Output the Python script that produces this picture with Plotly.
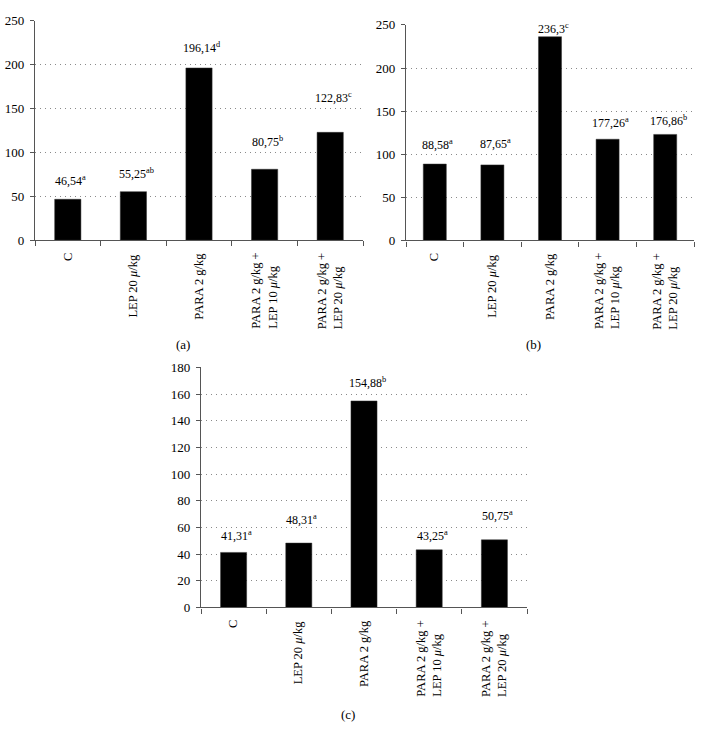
import plotly.graph_objects as go

# ---------------- data ----------------
categories = ["C", "LEP 20 <i>μ</i>/kg", "PARA 2 g/kg",
              "PARA 2 g/kg +<br>LEP 10 <i>μ</i>/kg",
              "PARA 2 g/kg +<br>LEP 20 <i>μ</i>/kg"]

values_a = [46.54, 55.25, 196.14, 80.75, 122.83]
labels_a = ["46,54", "55,25", "196,14", "80,75", "122,83"]
letters_a = ["a", "ab", "d", "b", "c"]

values_b = [88.58, 87.65, 236.3, 117.4, 123.0]
labels_b = ["88,58", "87,65", "236,3", "177,26", "176,86"]
letters_b = ["a", "a", "c", "a", "b"]

values_c = [41.31, 48.31, 154.88, 43.25, 50.75]
labels_c = ["41,31", "48,31", "154,88", "43,25", "50,75"]
letters_c = ["a", "a", "b", "a", "a"]

panel_names = ["(a)", "(b)", "(c)"]
y_ranges = [(0, 250, 50), (0, 250, 50), (0, 180, 20)]

# ---------------- style / layout ----------------
W, H = 703, 735
FONT = "Liberation Serif"
AXIS_COLOR = "#555555"
GRID_COLOR = "#8a8a8a"

domains = [
    dict(x=[35 / W, 363 / W], y=[1 - 238 / H, 1 - 14 / H]),
    dict(x=[406 / W, 694 / W], y=[1 - 238.3 / H, 1 - 18.3 / H]),
    dict(x=[201 / W, 527 / W], y=[1 - 613 / H, 1 - 368 / H]),
]
# label offsets above bar tops (px)
label_shift = [
    [19, 18, 20, 28, 35],
    [20, 21, 8, 17, 14],
    [17, 24, 18, 14, 24],
]
panel_label_pos = [(183, 345), (533, 345), (348, 722)]

fig = go.Figure()
series = [(values_a, labels_a, letters_a),
          (values_b, labels_b, letters_b),
          (values_c, labels_c, letters_c)]

annotations = []
idx = list(range(len(categories)))
for i, (vals, labs, lets) in enumerate(series):
    xa = "x" if i == 0 else f"x{i+1}"
    ya = "y" if i == 0 else f"y{i+1}"
    fig.add_trace(go.Bar(
        x=idx, y=vals, width=0.4,
        marker=dict(color="black", line=dict(color="#333333", width=0.5)),
        xaxis=xa, yaxis=ya, showlegend=False, hoverinfo="skip"))
    xk = "xaxis" if i == 0 else f"xaxis{i+1}"
    yk = "yaxis" if i == 0 else f"yaxis{i+1}"
    lo, hi, dt = y_ranges[i]
    fig.layout[xk] = dict(
        domain=domains[i]["x"], anchor=ya, type="linear",
        range=[-0.5, len(categories) - 0.5],
        tickmode="array", tickvals=[k - 0.5 for k in range(len(categories) + 1)],
        showticklabels=False, ticks="outside", ticklen=5, tickwidth=1.3,
        tickcolor=AXIS_COLOR, showline=True, linecolor=AXIS_COLOR, linewidth=1.3,
        showgrid=False, zeroline=False, fixedrange=True)
    fig.layout[yk] = dict(
        domain=domains[i]["y"], anchor=xa, range=[lo, hi], dtick=dt, tick0=0,
        ticks="outside", ticklen=4, tickwidth=1.3, tickcolor=AXIS_COLOR,
        showline=True, linecolor=AXIS_COLOR, linewidth=1.3,
        showgrid=True, gridcolor=GRID_COLOR, gridwidth=1, griddash="1px,4px",
        zeroline=False, tickfont=dict(family=FONT, size=13, color="black"),
        ticklabelstandoff=3, fixedrange=True)
    for k in idx:
        annotations.append(dict(
            x=k, y=vals[k], xref=xa, yref=ya,
            text=f"{labs[k]}<sup>{lets[k]}</sup>", showarrow=False,
            xanchor="center", yanchor="middle", yshift=label_shift[i][k], xshift=3,
            font=dict(family=FONT, size=12, color="black")))
        annotations.append(dict(
            x=k, y=0, xref=xa, yref=f"{ya} domain",
            text=categories[k], showarrow=False, textangle=-90, align="left",
            xanchor="center", yanchor="top", yshift=-11,
            font=dict(family=FONT, size=12.5, color="black")))
    px, py = panel_label_pos[i]
    annotations.append(dict(
        x=px / W, y=1 - py / H, xref="paper", yref="paper", text=panel_names[i],
        showarrow=False, xanchor="center", yanchor="middle",
        font=dict(family=FONT, size=13, color="black")))

fig.update_layout(
    width=W, height=H, margin=dict(l=0, r=0, t=0, b=0),
    paper_bgcolor="white", plot_bgcolor="white",
    annotations=annotations, bargap=0.6,
    font=dict(family=FONT, color="black"))

fig.write_html(
    "out.html",
    config={"displayModeBar": False},
    post_script=("document.body.style.margin='0';"
                 "document.body.style.overflow='hidden';"
                 "document.documentElement.style.overflow='hidden';"))
